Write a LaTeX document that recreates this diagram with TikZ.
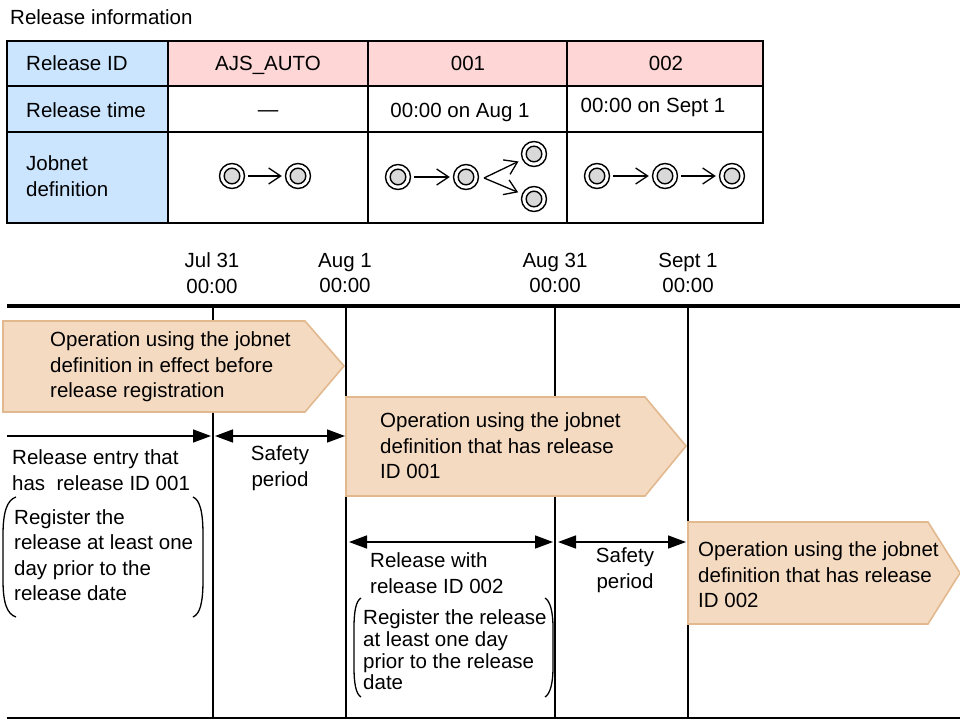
\documentclass[tikz,border=0pt]{standalone}
\usepackage{fontspec}
\setmainfont{Liberation Sans}
\usetikzlibrary{arrows.meta}
\definecolor{hdrblue}{HTML}{CCE5FF}
\definecolor{hdrpink}{HTML}{FFD6D6}
\definecolor{opfill}{HTML}{F5DAC2}
\definecolor{opedge}{HTML}{E2B88E}
\definecolor{icongray}{HTML}{D9D9D9}
\begin{document}
\begin{tikzpicture}[x=1pt,y=-1pt,
  every node/.style={font=\fontsize{20.5}{25.5}\selectfont, inner sep=0pt},
  lbl/.style={anchor=west, align=left},
  ctr/.style={align=center},
  gridline/.style={line width=1.6pt},
  jobicon/.style={circle, draw, line width=1.4pt, minimum size=25pt, inner sep=0pt,
    path picture={\draw[line width=1.4pt, fill=icongray] (path picture bounding box.center) circle[radius=7.8pt];}},
  jobarrow/.style={line width=1.3pt, -{Straight Barb[length=12pt,width=16pt,line width=1.3pt]}, shorten >=3pt, shorten <=3pt},
  dimarrow/.style={line width=1.5pt, {Triangle[length=18pt,width=13pt]}-{Triangle[length=18pt,width=13pt]}},
  rdimarrow/.style={line width=1.5pt, -{Triangle[length=18pt,width=13pt]}},
  opshape/.style={fill=opfill, draw=opedge, line width=1.6pt, line join=miter},
  timeline/.style={line width=3.2pt},
  baseline/.style={line width=2pt},
  vline/.style={line width=1.5pt},
  paren/.style={line width=1.3pt}
]
\useasboundingbox (0,0) rectangle (960,722);

% ---------- Release information table ----------
\node[lbl] (title) at (10,17) {Release information};

\fill[hdrblue] (7,41) rectangle (168,223);
\fill[hdrpink] (168,41) rectangle (763,86);
\draw[gridline] (7,41) rectangle (763,223);
\draw[gridline] (7,86) -- (763,86);
\draw[gridline] (7,132) -- (763,132);
\draw[gridline] (168,41) -- (168,223);
\draw[gridline] (368,41) -- (368,223);
\draw[gridline] (567,41) -- (567,223);

\node[lbl] (hid) at (26,63) {Release ID};
\node[lbl] (htime) at (26,110) {Release time};
\node[lbl] (hdef) at (26,176) {Jobnet\\definition};

\node (id0) at (268,65) {AJS\_AUTO};
\node (id1) at (468,63) {001};
\node (id2) at (666,63) {002};

\node (t0) at (268,114) {—};
\node (t1) at (460,112) {00:00 on Aug 1};
\node (t2) at (653,107) {00:00 on Sept 1};

% jobnet icons
\node[jobicon] (j1a) at (232,176) {};
\node[jobicon] (j1b) at (298,176) {};
\draw[jobarrow] (j1a) -- (j1b);

\node[jobicon] (j2a) at (398,177) {};
\node[jobicon] (j2b) at (466,177) {};
\node[jobicon] (j2c) at (534,154) {};
\node[jobicon] (j2d) at (534,199) {};
\draw[jobarrow] (j2a) -- (j2b);
\coordinate (fork) at (484,178);
\draw[jobarrow, shorten <=0pt, shorten >=4pt] (fork) -- (j2c);
\draw[jobarrow, shorten <=0pt, shorten >=4pt] (fork) -- (j2d);

\node[jobicon] (j3a) at (597,176) {};
\node[jobicon] (j3b) at (665,176) {};
\node[jobicon] (j3c) at (732,176) {};
\draw[jobarrow] (j3a) -- (j3b);
\draw[jobarrow] (j3b) -- (j3c);

% ---------- Timeline ----------
\node[ctr] (d1) at (212,273) {Jul 31\\00:00};
\node[ctr] (d2) at (345,273) {Aug 1\\00:00};
\node[ctr] (d3) at (555,273) {Aug 31\\00:00};
\node[ctr] (d4) at (688,273) {Sept 1\\00:00};

\coordinate (tlL) at (7,306);
\coordinate (tlR) at (960,306);
\coordinate (blL) at (7,718);
\coordinate (blR) at (960,718);
\draw[timeline] (tlL) -- (tlR);
\draw[baseline] (blL) -- (blR);

\foreach \x/\n in {213/a,346/b,555/c,688/d}{
  \coordinate (v\n top) at (\x,306);
  \coordinate (v\n bot) at (\x,718);
  \draw[vline] (v\n top) -- (v\n bot);
}

% operation arrows
\draw[opshape] (3,321) -- (305,321) -- (344,366) -- (305,412) -- (3,412) -- cycle;
\node[lbl] (op0) at (50,367) {Operation using the jobnet\\definition in effect before\\release registration};

\draw[opshape] (346,397) -- (645,397) -- (686,446) -- (645,496) -- (346,496) -- cycle;
\node[lbl] (op1) at (380,446) {Operation using the jobnet\\definition that has release\\ID 001};

\draw[opshape] (688,522) -- (928,522) -- (960,573) -- (928,624) -- (688,624) -- cycle;
\node[lbl] (op2) at (698,575) {Operation using the jobnet\\definition that has release\\ID 002};

% dimension arrows, first release
\coordinate (r1s) at (7,436);
\coordinate (r1e) at (211,436);
\coordinate (s1s) at (215,436);
\coordinate (s1e) at (345,436);
\draw[rdimarrow] (r1s) -- (r1e);
\draw[dimarrow] (s1s) -- (s1e);
\node[lbl] (rel1) at (12,470) {Release entry that\\has\ \ release ID 001};
\node[ctr] (safe1) at (280,468) {Safety\\period};
\draw[paren] (16,497) .. controls (7,500) and (3,512) .. (3,535) -- (3,580) .. controls (3,603) and (7,614) .. (16,617);
\draw[paren] (193,497) .. controls (200,500) and (203,512) .. (203,535) -- (203,580) .. controls (203,603) and (200,614) .. (193,617);
\node[lbl] (note1) at (14,555) {Register the\\release at least one\\day prior to the\\release date};

% dimension arrows, second release
\coordinate (r2s) at (349,542);
\coordinate (r2e) at (553,542);
\coordinate (s2s) at (558,542);
\coordinate (s2e) at (686,542);
\draw[dimarrow] (r2s) -- (r2e);
\draw[dimarrow] (s2s) -- (s2e);
\node[lbl] (rel2) at (370,573) {Release with\\release ID 002};
\node[ctr] (safe2) at (625,570) {Safety\\period};
\draw[paren] (361,598) .. controls (356,601) and (354,611) .. (354,628) -- (354,667) .. controls (354,684) and (356,694) .. (361,697);
\draw[paren] (545,598) .. controls (550,601) and (553,611) .. (553,628) -- (553,667) .. controls (553,684) and (550,694) .. (545,697);
\node[lbl, font=\fontsize{20.5}{21.6}\selectfont] (note2) at (363,650) {Register the release\\at least one day\\prior to the release\\date};
\end{tikzpicture}
\end{document}
